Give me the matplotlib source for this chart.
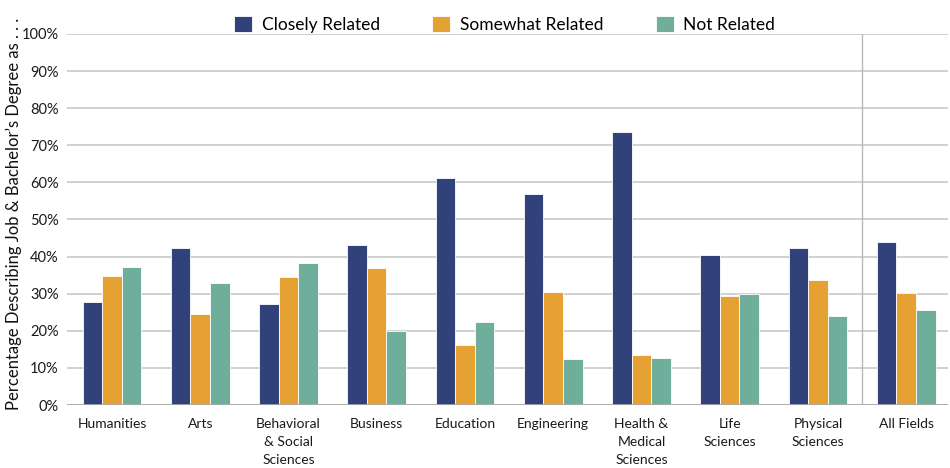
import numpy as np
import matplotlib
matplotlib.use("Agg")
import matplotlib.pyplot as plt

fields = ["Humanities", "Arts", "Behavioral\n& Social\nSciences", "Business", "Education",
          "Engineering", "Health &\nMedical\nSciences", "Life\nSciences", "Physical\nSciences",
          "All Fields"]
closely = [27.8, 42.4, 27.1, 43.0, 61.2, 56.9, 73.6, 40.3, 42.2, 44.0]
somewhat = [34.9, 24.5, 34.5, 37.0, 16.1, 30.5, 13.5, 29.4, 33.7, 30.2]
not_related = [37.1, 32.9, 38.2, 19.9, 22.4, 12.4, 12.7, 30.0, 23.9, 25.6]
series_names = ["Closely Related", "Somewhat Related", "Not Related"]
colors = ["#31427a", "#e5a131", "#6fae9a"]

plt.rcParams["font.family"] = ["Lato", "DejaVu Sans"]

fig = plt.figure(figsize=(9.5, 4.68), dpi=100)
ax = fig.add_axes([0.0705, 0.1346, 0.927, 0.7928])

x = np.arange(len(fields))
w = 0.222
for i, (vals, name, c) in enumerate(zip([closely, somewhat, not_related], series_names, colors)):
    ax.bar(x + (i - 1) * w, vals, w, color=c, label=name, edgecolor="white", linewidth=0.6, zorder=3)

ax.set_xlim(-0.51, 9.47)
ax.set_ylim(0, 100)
ax.set_yticks(np.arange(0, 101, 10))
ax.set_yticklabels([f"{v}%" for v in range(0, 101, 10)], fontsize=10.5, color="#1a1a1a")
ax.set_xticks(x)
ax.set_xticklabels(fields, fontsize=10, color="#1a1a1a", linespacing=1.6, va="top")
ax.tick_params(axis="both", length=0)
ax.tick_params(axis="x", pad=9)
ax.tick_params(axis="y", pad=6)
ax.yaxis.grid(True, color="#c4c4c4", linewidth=1.1, zorder=0)
for s in ax.spines.values():
    s.set_visible(False)
ax.axhline(0, color="#a8a8a8", linewidth=1.2, zorder=4)
ax.axvline(8.5, color="#b8b8b8", linewidth=1.0, zorder=2)

# y label sits low and runs off the top, as in the original
fig.text(0.006, 1 - 410 / 468, "Percentage Describing Job & Bachelor\u2019s Degree as . . .",
         rotation=90, fontsize=12, color="#111111", ha="left", va="bottom")

leg = ax.legend(loc="lower center", bbox_to_anchor=(0.497, 0.985), ncol=3, frameon=False,
                fontsize=12.5, handlelength=1.05, handleheight=1.05, columnspacing=3.0,
                handletextpad=0.55, borderaxespad=0)

fig.savefig("out.png", dpi=100)
